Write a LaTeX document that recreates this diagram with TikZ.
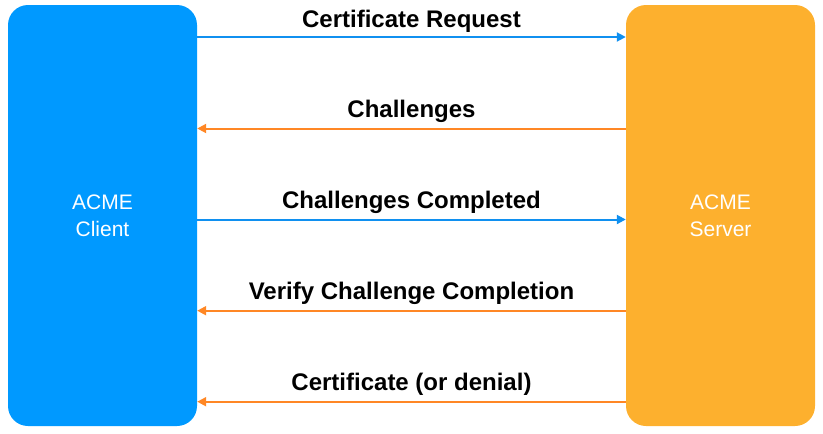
\documentclass[tikz,border=0pt]{standalone}
\usepackage{fontspec}
\setmainfont{Liberation Sans}
\usetikzlibrary{arrows.meta}
\definecolor{cblue}{RGB}{0,153,255}
\definecolor{corange}{RGB}{253,176,46}
\definecolor{ablue}{RGB}{16,144,240}
\definecolor{aorange}{RGB}{255,135,37}
\tikzset{
  party/.style={minimum width=189pt, minimum height=421pt, rounded corners=20pt, inner sep=0pt,
    text=white, align=center, font=\fontsize{21}{27}\selectfont},
  msgblue/.style={draw=ablue, line width=2pt, -{Triangle[length=9pt,width=9pt]}},
  msgorange/.style={draw=aorange, line width=2pt, -{Triangle[length=9pt,width=9pt]}},
  msglabel/.style={anchor=base, font=\fontsize{24}{28}\selectfont\bfseries, inner sep=0pt},
}
\begin{document}
\begin{tikzpicture}[x=1pt,y=-1pt]
\useasboundingbox (0,0) rectangle (823,434);
\node[party, fill=cblue] (client) at (102.5,215.5) {ACME\\Client};
\node[party, fill=corange] (server) at (720.5,215.5) {ACME\\Server};
\draw[msgblue] (client.east |- 0,37) -- node[msglabel, yshift=10pt] {Certificate Request} (server.west |- 0,37);
\draw[msgorange] (server.west |- 0,128.5) -- node[msglabel, yshift=11pt] {Challenges} (client.east |- 0,128.5);
\draw[msgblue] (client.east |- 0,219.5) -- node[msglabel, yshift=11pt] {Challenges Completed} (server.west |- 0,219.5);
\draw[msgorange] (server.west |- 0,310.7) -- node[msglabel, yshift=11pt] {Verify Challenge Completion} (client.east |- 0,310.7);
\draw[msgorange] (server.west |- 0,401.7) -- node[msglabel, yshift=11pt] {Certificate (or denial)} (client.east |- 0,401.7);
\end{tikzpicture}
\end{document}
